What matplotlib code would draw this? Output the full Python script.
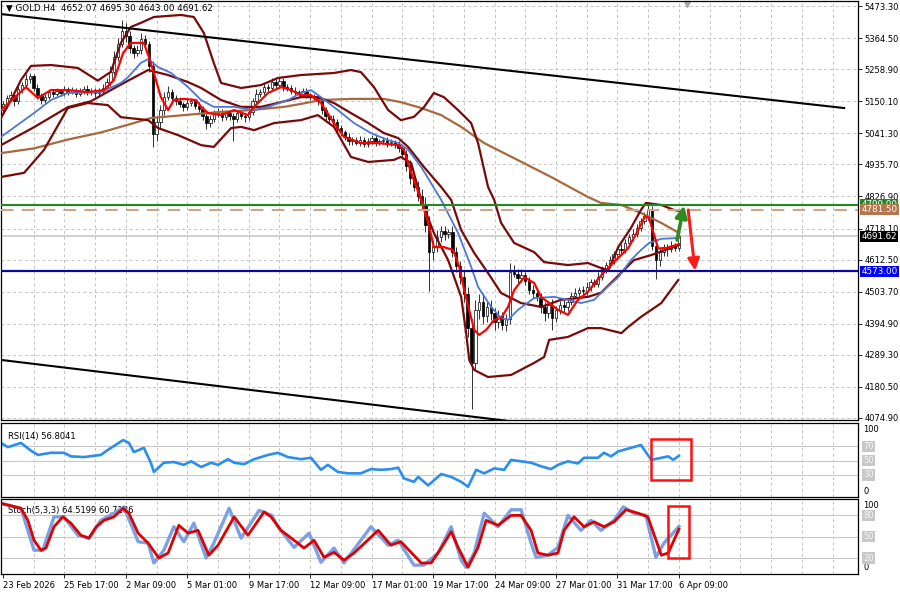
import numpy as np
import matplotlib.pyplot as plt
from matplotlib.patches import Rectangle
from matplotlib.transforms import blended_transform_factory

# ---- DATA ----
title_text = "\u25bc GOLD.H4  4652.07 4695.30 4643.00 4691.62"
date_labels = ["23 Feb 2026", "25 Feb 17:00", "2 Mar 09:00", "5 Mar 01:00", "9 Mar 17:00",
               "12 Mar 09:00", "17 Mar 01:00", "19 Mar 17:00", "24 Mar 09:00",
               "27 Mar 01:00", "31 Mar 17:00", "6 Apr 09:00"]
date_bars = [0, 16, 32, 48, 64, 80, 96, 112, 128, 144, 160, 176]
price_ticks = [5473.30, 5364.50, 5258.90, 5150.10, 5041.30, 4935.70, 4826.90,
               4718.10, 4612.50, 4503.70, 4394.90, 4289.30, 4180.50, 4074.90]

first_open = 5120
closes = [5140, 5160, 5170, 5150, 5190, 5205, 5225, 5235, 5195, 5170,
          5155, 5165, 5180, 5175, 5185, 5178, 5190, 5182, 5188, 5176,
          5185, 5192, 5180, 5186, 5178, 5185, 5195, 5215, 5250, 5300,
          5345, 5390, 5370, 5330, 5315, 5325, 5360, 5345, 5270, 5040,
          5080, 5120, 5165, 5180, 5160, 5150, 5140, 5130, 5145, 5150,
          5135, 5125, 5100, 5075, 5090, 5110, 5115, 5095, 5110, 5100,
          5090, 5110, 5100, 5095, 5115, 5150, 5175, 5180, 5200, 5195,
          5215, 5205, 5220, 5200, 5195, 5185, 5180, 5175, 5185, 5170,
          5165, 5160, 5150, 5120, 5100, 5090, 5080, 5060, 5045, 5030,
          5015, 5020, 5010, 5020, 5005, 5015, 5025, 5010, 5015, 5020,
          5008, 5012, 5005, 4990, 4970, 4930, 4890, 4860, 4830, 4800,
          4730, 4640, 4660, 4690, 4710, 4700, 4705, 4640, 4590, 4555,
          4495, 4380, 4260, 4440, 4470, 4420, 4450, 4430, 4400, 4420,
          4390, 4410, 4570, 4565, 4550, 4560, 4540, 4510, 4500, 4485,
          4450, 4430, 4460, 4415, 4440, 4460, 4450, 4470, 4490, 4500,
          4510, 4505, 4520, 4535, 4530, 4555, 4580, 4595, 4610, 4630,
          4650, 4645, 4670, 4690, 4700, 4720, 4745, 4760, 4780, 4660,
          4610, 4640, 4655, 4650, 4660, 4652.07, 4691.62]
up_wick = [12, 10, 15, 8, 14, 12, 18, 10, 9, 12,
           8, 11, 9, 13, 10, 7, 12, 9, 10, 8,
           11, 9, 12, 8, 10, 9, 12, 15, 18, 22,
           20, 35, 25, 18, 12, 15, 20, 14, 10, 15,
           20, 18, 15, 22, 12, 10, 14, 9, 12, 10,
           8, 12, 10, 9, 14, 10, 12, 8, 11, 9,
           10, 12, 9, 10, 14, 12, 15, 10, 12, 9,
           14, 10, 12, 8, 9, 10, 12, 8, 10, 9,
           8, 10, 12, 9, 10, 8, 12, 9, 10, 8,
           11, 9, 10, 12, 8, 10, 9, 11, 8, 10,
           9, 10, 8, 10, 12, 15, 20, 15, 18, 22,
           25, 30, 20, 22, 18, 15, 12, 20, 15, 18,
           20, 25, 30, 35, 25, 30, 20, 25, 18, 20,
           15, 18, 30, 25, 15, 20, 12, 15, 18, 12,
           15, 20, 12, 18, 15, 12, 18, 10, 12, 15,
           10, 12, 15, 10, 12, 15, 12, 10, 15, 12,
           10, 15, 12, 10, 15, 12, 10, 15, 20, 15,
           20, 15, 12, 10, 15, 10, 3.68]
dn_wick = [10, 12, 8, 15, 10, 12, 9, 14, 10, 12,
           15, 10, 9, 12, 8, 10, 9, 12, 8, 10,
           9, 12, 8, 10, 12, 9, 10, 8, 12, 10,
           15, 12, 20, 15, 18, 12, 14, 15, 20, 45,
           25, 20, 15, 12, 18, 14, 10, 12, 9, 11,
           12, 10, 15, 20, 12, 10, 14, 12, 10, 15,
           75, 12, 10, 14, 10, 12, 9, 11, 10, 12,
           9, 12, 10, 14, 10, 12, 9, 10, 12, 10,
           12, 10, 14, 12, 15, 10, 12, 14, 12, 10,
           12, 14, 10, 12, 9, 11, 10, 12, 9, 10,
           12, 10, 14, 12, 15, 18, 20, 15, 18, 20,
           25, 134, 30, 20, 18, 22, 15, 20, 18, 25,
           25, 30, 155, 20, 30, 25, 20, 22, 25, 20,
           18, 20, 15, 12, 18, 15, 12, 15, 18, 14,
           20, 25, 15, 40, 15, 12, 14, 12, 10, 12,
           14, 10, 12, 15, 12, 10, 12, 14, 10, 12,
           15, 12, 10, 12, 14, 10, 12, 10, 12, 15,
           65, 20, 15, 25, 12, 10, 9.07]

# indicator lines as (bar, price) vertices
red_ma_bar = [-0.5, 6, 9.1, 12.5, 16.9, 22.1, 26.3, 28.9, 31.3, 33.3, 36.7, 38, 39.3, 41.1, 43,
              44.5, 47.1, 50.3, 51.6, 53.4, 56.8, 60.2, 63.8, 65.4, 69, 72.4, 75, 77.6, 80.2,
              82.8, 86.2, 88.8, 93.2, 97.7, 102.9, 104.4, 106.3, 108.9, 110.7, 112.2, 114.8,
              117.2, 118.8, 120.1, 121.4, 122.7, 124, 125.8, 127.9, 129.7, 131.5, 133.1, 135.7,
              138.3, 140.1, 142.2, 144.5, 147.1, 149.7, 152.3, 153.9, 156.5, 159.1, 162.8,
              165.4, 167.2, 168.2, 170.6, 172.7, 176]
red_ma_val = [5120, 5198, 5161, 5188, 5188, 5181, 5188, 5222, 5314, 5348, 5348, 5300, 5246, 5165,
              5120, 5154, 5158, 5154, 5131, 5110, 5103, 5120, 5103, 5131, 5178, 5198, 5188, 5171,
              5171, 5144, 5076, 5029, 5008, 5008, 5001, 4985, 4907, 4815, 4737, 4655, 4655, 4645,
              4588, 4509, 4441, 4374, 4357, 4374, 4408, 4414, 4452, 4509, 4553, 4533, 4486, 4465,
              4442, 4425, 4476, 4503, 4530, 4570, 4604, 4652, 4713, 4760, 4754, 4650, 4652, 4665]

blue_ma_bar = [-0.5, 8.1, 12.5, 16.9, 25.5, 30.7, 32.6, 35.9, 37.8, 40.4, 43.8, 48.2, 51.6,
               54.9, 60.2, 65.4, 69, 74.2, 77.6, 80.2, 82.8, 87.2, 91.4, 95.8, 100.3, 103.1,
               105.5, 108.9, 114.1, 118.5, 121.9, 123.7, 127.1, 129.7, 131.5, 134.1, 138.3,
               143.5, 147.1, 150.5, 153.9, 156.5, 160.2, 163.5, 166.1, 168.2, 171.4, 176]
blue_ma_val = [5029, 5110, 5154, 5178, 5181, 5212, 5232, 5280, 5293, 5266, 5246, 5198, 5154,
               5131, 5131, 5120, 5131, 5154, 5178, 5188, 5164, 5120, 5076, 5042, 5018, 5008,
               4985, 4927, 4815, 4703, 4588, 4520, 4452, 4414, 4408, 4442, 4482,
               4486, 4476, 4465, 4476, 4509, 4553, 4611, 4645, 4669, 4683, 4686]

brown_ma_bar = [-0.5, 8.1, 16.9, 25.5, 34.1, 38.5, 47.1, 56, 64.6, 73.2, 77.6, 82.8, 90.6, 99.2,
                103.6, 108.9, 114.1, 119.3, 125.3, 134.1, 142.7, 152.3, 155.7, 161, 166.1,
                171.4, 176]
brown_ma_val = [4974, 4990, 5020, 5044, 5076, 5093, 5103, 5113, 5120, 5131, 5141, 5154, 5158, 5158,
                5147, 5127, 5103, 5063, 5008, 4950, 4893, 4825, 4805, 4798, 4771, 4737, 4703]

maroon_ma_bar = [-0.5, 8.1, 16.9, 22.9, 28.1, 32.6, 37.8, 43, 48.2, 51.6, 56.8, 62, 67.2,
                 72.4, 77.6, 82, 86.2, 90.6, 95.1, 99.2, 102.9, 105.5, 109.6, 114.1, 116.7,
                 119.3, 122.7, 126.3, 129.7, 134.9, 140.1, 145.3, 152.3, 155.7, 164.3, 168.8, 176]
maroon_ma_val = [5001, 5062, 5130, 5150, 5188, 5220, 5256, 5239, 5215, 5195, 5154, 5131, 5131,
                 5147, 5164, 5164, 5144, 5110, 5076, 5042, 5025, 4995, 4927, 4859, 4815,
                 4713, 4635, 4567, 4499, 4465, 4452, 4476, 4486, 4500, 4611, 4628, 4662]

bb_upper_bar = [-0.5, 2.1, 4.7, 7.3, 12.5, 19.5, 24.7, 28.1, 30.7, 33.3, 35.9, 39.3, 46.4, 49.7,
                52.3, 54.9, 56.8, 62, 67.2, 71.6, 77.6, 86.2, 90.6, 93.2, 96.6, 100.3, 103.6,
                107, 109.6, 112.2, 114.8, 118.5, 121.9, 123.7, 126.3, 127.9, 129.7, 133.1,
                138.3, 140.9, 147.1, 152.3, 155.7, 157.6, 160.2, 163.5, 166.1, 167.4, 171.4,
                174.7, 176]
bb_upper_val = [5093, 5154, 5222, 5270, 5273, 5263, 5220, 5250, 5348, 5402, 5416, 5436, 5443, 5436,
                5382, 5280, 5212, 5195, 5205, 5229, 5239, 5246, 5256, 5249, 5198, 5120, 5086,
                5097, 5130, 5178, 5164, 5120, 5076, 5008, 4859, 4815, 4737, 4669,
                4638, 4604, 4594, 4601, 4584, 4577, 4655, 4720, 4781, 4805, 4798,
                4781, 4778]

bb_lower_bar = [-0.5, 5.5, 10.7, 16.9, 22.1, 27.3, 30.7, 37.8, 40.4, 45.6, 51.6, 54.9, 59.4, 62,
                65.4, 70.6, 77.6, 82, 86.2, 90.6, 95.1, 101.8, 103.6, 106.3, 108.9, 112.2,
                115.9, 119.3, 120.6, 121.4, 122.7, 126.3, 132.3, 138.3, 140.9, 142.2, 147.1,
                152.3, 155.7, 161, 162.8, 166.1, 171.4, 175.8]
bb_lower_val = [4893, 4907, 4985, 5127, 5144, 5137, 5096, 5086, 5059, 5035, 5001, 4995, 5059, 5063,
                5052, 5076, 5086, 5103, 5063, 4961, 4944, 4951, 4961, 4940, 4815, 4703,
                4611, 4486, 4363, 4272, 4238, 4214, 4221, 4262, 4282, 4340, 4350,
                4380, 4380, 4363, 4384, 4418, 4465, 4543]

trend_upper_bar = [-0.5, 219]
trend_upper_val = [5446, 5127]
trend_lower_bar = [-0.5, 155]
trend_lower_val = [4272, 4028]

level_green = 4799.00
level_dashed = 4781.50
level_last = 4691.62
level_blue = 4573.00

arrow_up = ((175.5, 4679), (177.3, 4796))
arrow_down = ((178.4, 4781), (180.2, 4575))

rsi_bar = [-0.5, 1.3, 4.7, 7.3, 9.1, 12.5, 15.9, 17.7, 21.1, 25.5, 27.3, 31.3, 32.8, 34.1,
           36.7, 38.5, 39.3, 41.9, 44.5, 47.1, 49, 51.6, 54.2, 56, 58.6, 60.2, 62.8, 65.4,
           69, 71.6, 74.2, 77.6, 80.2, 82.8, 84.6, 87.2, 89.8, 93.2, 95.8, 98.4, 101,
           102.9, 104.4, 107, 108.1, 110.7, 114.1, 116.7, 119.3, 121.1, 123.2, 125.3, 127.9,
           130.5, 132.3, 134.9, 137.5, 140.1, 142.7, 144.5, 147.1, 149.7, 151.3, 154.9,
           156.5, 158.3, 160.2, 163.5, 166.1, 168.8, 170.6, 173.2, 174.5, 176]
rsi_val = [75, 69, 75, 64, 58, 61, 61, 56, 55, 58, 65, 79, 75, 62,
           68, 47, 34, 47, 48, 44, 49, 41, 47, 44, 52, 47, 45, 52,
           58, 61, 55, 52, 54, 37, 44, 34, 32, 32, 38, 37, 38,
           40, 25, 20, 27, 15, 31, 27, 20, 13, 37, 32, 39,
           37, 51, 49, 47, 42, 38, 44, 49, 46, 54, 54,
           61, 56, 63, 68, 72, 51, 53, 56, 51, 56.8]

stoch_d_bar = [-0.5, 4.7, 6.5, 8.1, 9.9, 11.2, 13.3, 15.6, 17.7, 20.3, 22.4, 24.3, 26.3, 28.9,
               31.3, 32.8, 35.2, 37.8, 40.6, 43, 45.8, 48.2, 50.8, 53.6, 56, 60.2, 63.8, 68,
               69.8, 72.4, 75.8, 78.4, 81, 83.6, 86.2, 88.8, 91.4, 97.7, 101, 103.6, 108.9,
               111.5, 114.1, 116.7, 118.5, 121.1, 123.7, 125.8, 128.9, 132.3, 134.9, 137.5,
               139.3, 141.9, 144.5, 146.1, 148.7, 151.3, 153.9, 156.5, 159.1, 162.2, 165.4,
               167.9, 171.4, 173.2, 176]
stoch_d_val = [97, 90, 73, 45, 31, 34, 64, 78, 69, 52, 48, 64, 73,
               78, 90, 83, 55, 41, 20, 27, 66, 55, 59, 24, 38, 78, 52, 85,
               78, 59, 45, 34, 45, 21, 28, 17, 27, 59, 38, 43, 13,
               13, 34, 57, 35, 7, 35, 73, 66, 80, 80, 59,
               27, 24, 27, 59, 78, 64, 71, 64, 71, 88, 83,
               78, 24, 27, 60.7]
stoch_k_bar = [-0.5, 4.7, 8.1, 10.4, 13.3, 15.9, 19.5, 22.4, 25.5, 28.9, 31.5, 35.2, 37.8,
               39.3, 41.9, 44.5, 47.1, 49.7, 52.9, 54.9, 58.9, 62, 66.7, 70, 71.6, 75.8,
               79.7, 82.8, 86.2, 88.8, 95.8, 100.3, 102.9, 107, 109.6, 113.3, 116.7, 119.3,
               120.6, 122.7, 125.3, 128.9, 132.3, 134.9, 137.5, 138.8, 141.9, 144.5, 147.1,
               150.5, 153.1, 155.7, 159.1, 161.5, 164.3, 167.4, 170, 172.1, 176]
stoch_k_val = [97, 90, 31, 31, 78, 78, 52, 48, 73, 83, 92, 43, 41,
               13, 31, 64, 43, 69, 20, 41, 90, 48, 87, 80, 64, 35,
               55, 14, 34, 13, 64, 38, 45, 10, 10, 27, 64, 17,
               7, 27, 83, 64, 88, 88, 41, 21, 24, 35, 80,
               59, 73, 59, 73, 92, 83, 80, 21, 41, 64.5]

rsi_box = (168.8, 23, 10.4, 57)      # bar, value, width(bars), height
stoch_box = (173.2, 19.7, 5.5, 73.7)

# ---- FIGURE ----
fig = plt.figure(figsize=(9, 5.93), dpi=100)
ax = fig.add_axes([0.0011, 0.29174, 0.95218, 0.70657])
ax_rsi = fig.add_axes([0.0011, 0.16189, 0.95218, 0.12479], sharex=ax)
ax_st = fig.add_axes([0.0011, 0.03204, 0.95218, 0.12648], sharex=ax)

grid_col = '#c4c4c4'
vgrid = np.arange(8, 223, 8)
fs = 6

# candles
closes_a = np.array(closes, dtype=float)
opens_a = np.concatenate([[first_open], closes_a[:-1]])
bars = np.arange(len(closes_a))
highs = np.maximum(opens_a, closes_a) + np.array(up_wick)
lows = np.minimum(opens_a, closes_a) - np.array(dn_wick)
ax.vlines(bars, lows, highs, color='#303030', lw=0.7, zorder=2)
up = closes_a >= opens_a
ax.bar(bars[up], closes_a[up] - opens_a[up], bottom=opens_a[up], width=0.62,
       color='white', edgecolor='black', linewidth=0.5, zorder=3)
ax.bar(bars[~up], opens_a[~up] - closes_a[~up], bottom=closes_a[~up], width=0.62,
       color='black', edgecolor='black', linewidth=0.5, zorder=3)

# indicators
ax.plot(brown_ma_bar, brown_ma_val, color='#a8693f', lw=1.6, zorder=4)
ax.plot(maroon_ma_bar, maroon_ma_val, color='#7a0a0a', lw=1.6, zorder=4)
ax.plot(bb_upper_bar, bb_upper_val, color='#7a0a0a', lw=1.6, zorder=4)
ax.plot(bb_lower_bar, bb_lower_val, color='#7a0a0a', lw=1.6, zorder=4)
ax.plot(blue_ma_bar, blue_ma_val, color='#4a78d6', lw=1.3, zorder=5)
ax.plot(red_ma_bar, red_ma_val, color='#ff0000', lw=1.6, zorder=6)

# trend lines
ax.plot(trend_upper_bar, trend_upper_val, color='black', lw=1.5, zorder=4)
ax.plot(trend_lower_bar, trend_lower_val, color='black', lw=1.5, zorder=4)

# horizontal levels
ax.axhline(level_last, color='#c8c8c8', lw=1.2, zorder=1)
ax.axhline(level_green, color='#1f8a1f', lw=1.5, zorder=7)
ax.axhline(level_dashed, color='#c9a58c', lw=1.5, ls=(0, (6, 4)), zorder=7)
ax.axhline(level_blue, color='#0a0a9a', lw=1.6, zorder=7)

# arrows
ax.annotate('', xy=arrow_up[1], xytext=arrow_up[0],
            arrowprops=dict(arrowstyle='-|>,head_width=0.35,head_length=0.7', lw=2.6,
                            color='#2e8b22', shrinkA=0, shrinkB=0), zorder=8)
ax.annotate('', xy=arrow_down[1], xytext=arrow_down[0],
            arrowprops=dict(arrowstyle='-|>,head_width=0.35,head_length=0.7', lw=2.2,
                            color='#ff1a1a', shrinkA=0, shrinkB=0), zorder=8)

ax.set_ylim(4068.1, 5490.3)
ax.set_xlim(-0.5, 222.6)
for v in price_ticks:
    ax.axhline(v, color=grid_col, lw=0.7, ls=(0, (3, 3)), zorder=0)
for b in vgrid:
    for a in (ax, ax_rsi, ax_st):
        a.axvline(b, color=grid_col, lw=0.7, ls=(0, (3, 3)), zorder=0)

ax.yaxis.tick_right()
ax.set_yticks(price_ticks)
ax.set_yticklabels([f"{v:.2f}" for v in price_ticks])
ax.tick_params(axis='y', labelsize=fs, length=3, pad=1.5, width=0.6)
ax.tick_params(axis='x', bottom=False, labelbottom=False)

ax.text(0.006, 0.992, title_text, transform=ax.transAxes, fontsize=fs + 0.3,
        va='top', ha='left', zorder=10)
tr = blended_transform_factory(ax.transData, ax.transAxes)
ax.plot([178.2], [0.994], marker='v', color='#a8a8a8', ms=5, transform=tr, clip_on=False)

# price boxes on right axis
trb = blended_transform_factory(ax.transAxes, ax.transData)
box_specs = [(level_green, '4799.00', '#1f8a1f'), (level_dashed, '4781.50', '#b5764e'),
             (level_last, '4691.62', 'black'), (level_blue, '4573.00', '#0000ff')]
for val, txt, col in box_specs:
    ax.text(1.004, val, txt, transform=trb, fontsize=fs + 0.3, color='white', va='center',
            ha='left', zorder=12, clip_on=False,
            bbox=dict(boxstyle='square,pad=0.12', fc=col, ec='none'))

# RSI panel
ax_rsi.plot(rsi_bar, rsi_val, color='#2a8ef0', lw=1.9)
for lv in (70, 50, 30):
    ax_rsi.axhline(lv, color='#c8c8c8', lw=0.8, zorder=0)
ax_rsi.set_ylim(-1.4, 103.1)
ax_rsi.add_patch(Rectangle((rsi_box[0], rsi_box[1]), rsi_box[2], rsi_box[3],
                           fill=False, ec='#ff1010', lw=1.8, zorder=6))
ax_rsi.text(0.008, 0.88, "RSI(14) 56.8041", transform=ax_rsi.transAxes, fontsize=fs,
            va='top', ha='left')

# Stochastic panel
ax_st.plot(stoch_k_bar, stoch_k_val, color='#7aa1e4', lw=2.4)
ax_st.plot(stoch_d_bar, stoch_d_val, color='#e00000', lw=2.0)
for lv in (80, 50, 20):
    ax_st.axhline(lv, color='#c8c8c8', lw=0.8, zorder=0)
ax_st.set_ylim(-2.5, 103.1)
ax_st.add_patch(Rectangle((stoch_box[0], stoch_box[1]), stoch_box[2], stoch_box[3],
                          fill=False, ec='#ff1010', lw=1.8, zorder=6))
ax_st.text(0.008, 0.9, "Stoch(5,3,3) 64.5199 60.7186", transform=ax_st.transAxes,
           fontsize=fs, va='top', ha='left', zorder=1)

for a, levels in ((ax_rsi, (70, 50, 30)), (ax_st, (80, 50, 20))):
    a.set_yticks([])
    a.tick_params(axis='y', length=0)
    trs = blended_transform_factory(a.transAxes, a.transData)
    a.text(1.006, 100, "100", transform=trs, fontsize=fs, va='top', ha='left', clip_on=False)
    a.text(1.006, 0, "0", transform=trs, fontsize=fs, va='bottom', ha='left', clip_on=False)
    for lv in levels:
        a.text(1.006, lv, str(lv), transform=trs, fontsize=fs, va='center', ha='left',
               color='#f4f4f4', clip_on=False,
               bbox=dict(boxstyle='square,pad=0.15', fc='#c8c8c8', ec='none'))

ax_rsi.tick_params(axis='x', bottom=False, labelbottom=False)
ax_st.set_xticks(date_bars)
ax_st.set_xticklabels(date_labels, ha='left')
ax_st.tick_params(axis='x', labelsize=fs, length=3, pad=2, width=0.6)

for a in (ax, ax_rsi, ax_st):
    for s in a.spines.values():
        s.set_color('black')
        s.set_linewidth(0.9)

fig.savefig('out.png', dpi=100)
